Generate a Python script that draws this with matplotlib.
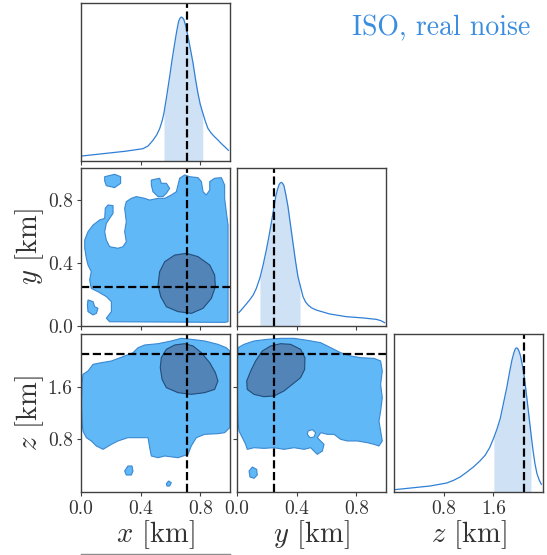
import numpy as np
import matplotlib
matplotlib.use("Agg")
import matplotlib.pyplot as plt
from matplotlib.lines import Line2D

plt.rcParams['font.family'] = 'serif'
plt.rcParams['font.serif'] = ['cmr10']
plt.rcParams['mathtext.fontset'] = 'cm'
plt.rcParams['axes.formatter.use_mathtext'] = True

# true source location [km]
x_true, y_true, z_true = 0.71, 0.25, 2.1
x_lim, y_lim, z_lim = (0.0, 1.0), (0.0, 1.0), (0.0, 2.4)

# 1D marginal posteriors (relative density)
x_grid = [0.009, 0.300, 0.416, 0.450, 0.483, 0.508, 0.528, 0.545, 0.557, 0.575,
          0.595, 0.612, 0.629, 0.643, 0.655, 0.664, 0.673, 0.682, 0.691, 0.704,
          0.718, 0.735, 0.752, 0.768, 0.785, 0.800, 0.817, 0.835, 0.852, 0.875,
          0.897, 0.920, 0.942, 0.965, 0.989]
x_dens = [0.032, 0.062, 0.078, 0.095, 0.131, 0.165, 0.205, 0.255, 0.305, 0.410,
          0.534, 0.645, 0.746, 0.825, 0.883, 0.903, 0.911, 0.907, 0.894, 0.850,
          0.788, 0.705, 0.619, 0.520, 0.428, 0.360, 0.305, 0.250, 0.206, 0.175,
          0.153, 0.132, 0.110, 0.090, 0.068]
x_ci = (0.557, 0.817)

y_grid = [0.013, 0.050, 0.085, 0.110, 0.130, 0.154, 0.175, 0.197, 0.214, 0.230,
          0.246, 0.260, 0.272, 0.282, 0.290, 0.298, 0.306, 0.315, 0.328, 0.342,
          0.359, 0.376, 0.392, 0.409, 0.423, 0.443, 0.460, 0.477, 0.500, 0.532,
          0.622, 0.734, 0.846, 0.935, 0.965, 0.991]
y_dens = [0.085, 0.125, 0.165, 0.198, 0.239, 0.305, 0.385, 0.482, 0.565, 0.651,
          0.740, 0.820, 0.865, 0.894, 0.905, 0.909, 0.903, 0.888, 0.830, 0.757,
          0.640, 0.524, 0.415, 0.313, 0.260, 0.186, 0.152, 0.133, 0.115, 0.101,
          0.076, 0.059, 0.051, 0.042, 0.034, 0.021]
y_ci = (0.154, 0.423)

z_grid = [0.016, 0.312, 0.581, 0.850, 0.960, 1.065, 1.170, 1.281, 1.380, 1.469,
          1.540, 1.609, 1.660, 1.711, 1.765, 1.819, 1.862, 1.900, 1.930, 1.953,
          1.972, 1.991, 2.012, 2.034, 2.066, 2.099, 2.134, 2.169, 2.206, 2.239,
          2.270, 2.303, 2.340, 2.373]
z_dens = [0.015, 0.027, 0.038, 0.057, 0.074, 0.095, 0.125, 0.159, 0.195, 0.233,
          0.280, 0.345, 0.400, 0.465, 0.565, 0.666, 0.760, 0.835, 0.880, 0.905,
          0.912, 0.909, 0.893, 0.867, 0.805, 0.729, 0.615, 0.497, 0.370, 0.264,
          0.180, 0.116, 0.075, 0.049]
z_ci = (1.609, 2.206)

# 2D credible regions: outer (90%) and inner (50%) contours
xy_outer = [
    [(0.192, 0.027), (0.170, 0.049), (0.204, 0.091), (0.204, 0.154), (0.170, 0.186),
     (0.114, 0.217), (0.069, 0.238), (0.058, 0.291), (0.069, 0.344), (0.047, 0.386),
     (0.036, 0.428), (0.025, 0.492), (0.025, 0.544), (0.047, 0.597), (0.081, 0.639),
     (0.125, 0.671), (0.159, 0.681), (0.163, 0.745), (0.181, 0.766), (0.215, 0.762),
     (0.215, 0.713), (0.192, 0.681), (0.170, 0.650), (0.159, 0.597), (0.170, 0.544),
     (0.192, 0.502), (0.248, 0.492), (0.282, 0.502), (0.304, 0.534), (0.293, 0.597),
     (0.304, 0.660), (0.293, 0.745), (0.304, 0.787), (0.338, 0.808), (0.371, 0.819),
     (0.427, 0.808), (0.461, 0.797), (0.517, 0.808), (0.562, 0.808), (0.606, 0.829),
     (0.640, 0.850), (0.651, 0.892), (0.662, 0.935), (0.696, 0.956), (0.729, 0.945),
     (0.785, 0.939), (0.808, 0.914), (0.819, 0.850), (0.841, 0.829), (0.864, 0.861),
     (0.864, 0.914), (0.897, 0.935), (0.942, 0.939), (0.964, 0.892), (0.964, 0.808),
     (0.975, 0.724), (0.987, 0.639), (0.987, 0.027), (0.964, 0.023)],
    [(0.159, 0.945), (0.226, 0.960), (0.266, 0.945), (0.266, 0.903), (0.226, 0.876),
     (0.170, 0.888), (0.159, 0.918)],
    [(0.472, 0.924), (0.528, 0.935), (0.539, 0.903), (0.573, 0.903), (0.595, 0.871),
     (0.573, 0.840), (0.550, 0.819), (0.517, 0.819), (0.483, 0.850), (0.472, 0.892)],
    [(0.047, 0.165), (0.081, 0.154), (0.092, 0.122), (0.114, 0.112), (0.103, 0.080),
     (0.081, 0.070), (0.047, 0.091), (0.043, 0.133)],
]
xy_inner = [(0.517, 0.259), (0.528, 0.344), (0.562, 0.407), (0.629, 0.449), (0.707, 0.460),
            (0.785, 0.439), (0.864, 0.386), (0.897, 0.323), (0.902, 0.249), (0.875, 0.175),
            (0.819, 0.112), (0.741, 0.080), (0.651, 0.091), (0.573, 0.122), (0.535, 0.186)]

xz_outer = [
    [(0.007, 1.635), (0.013, 1.787), (0.047, 1.838), (0.081, 1.939), (0.136, 1.964),
     (0.204, 1.990), (0.293, 2.066), (0.349, 2.116), (0.383, 2.192), (0.427, 2.233),
     (0.517, 2.253), (0.606, 2.294), (0.673, 2.334), (0.740, 2.319), (0.830, 2.294),
     (0.919, 2.243), (0.975, 2.192), (0.998, 2.142), (0.998, 0.977), (0.964, 0.901),
     (0.919, 0.886), (0.830, 0.876), (0.774, 0.825), (0.740, 0.699), (0.718, 0.572),
     (0.651, 0.521), (0.562, 0.547), (0.517, 0.521), (0.472, 0.547), (0.461, 0.673),
     (0.450, 0.825), (0.383, 0.825), (0.315, 0.825), (0.248, 0.775), (0.204, 0.724),
     (0.148, 0.648), (0.103, 0.699), (0.069, 0.775), (0.036, 0.825), (0.013, 0.927),
     (0.007, 1.078), (0.002, 1.332)],
    [(0.293, 0.319), (0.315, 0.395), (0.342, 0.395), (0.349, 0.319), (0.338, 0.258),
     (0.304, 0.258)],
    [(0.573, 0.127), (0.588, 0.167), (0.606, 0.142), (0.595, 0.091), (0.577, 0.091)],
]
xz_inner = [(0.539, 2.040), (0.573, 2.167), (0.629, 2.233), (0.696, 2.253), (0.752, 2.218),
            (0.808, 2.116), (0.864, 1.964), (0.902, 1.813), (0.919, 1.686), (0.897, 1.559),
            (0.830, 1.509), (0.740, 1.483), (0.651, 1.509), (0.573, 1.585), (0.544, 1.711),
            (0.532, 1.889)]

yz_outer = [
    [(0.007, 2.192), (0.047, 2.243), (0.114, 2.294), (0.204, 2.319), (0.293, 2.334),
     (0.383, 2.334), (0.472, 2.304), (0.562, 2.268), (0.629, 2.192), (0.696, 2.116),
     (0.763, 2.066), (0.830, 2.040), (0.919, 2.030), (0.964, 1.990), (0.975, 1.838),
     (0.964, 1.635), (0.975, 1.433), (0.964, 1.230), (0.953, 1.078), (0.964, 0.927),
     (0.975, 0.775), (0.953, 0.699), (0.919, 0.724), (0.875, 0.749), (0.808, 0.775),
     (0.740, 0.775), (0.696, 0.800), (0.651, 0.876), (0.606, 0.876), (0.562, 0.901),
     (0.539, 0.825), (0.584, 0.724), (0.573, 0.623), (0.539, 0.572), (0.494, 0.673),
     (0.450, 0.648), (0.383, 0.673), (0.315, 0.648), (0.248, 0.673), (0.181, 0.663),
     (0.114, 0.673), (0.069, 0.648), (0.058, 0.724), (0.036, 0.825), (0.013, 0.927),
     (0.007, 1.078), (0.002, 1.433), (0.002, 1.939)],
    [(0.081, 0.319), (0.103, 0.380), (0.132, 0.344), (0.136, 0.258), (0.114, 0.208),
     (0.087, 0.228)],
]
yz_holes = [[(0.477, 0.927), (0.506, 0.947), (0.528, 0.901), (0.517, 0.835),
             (0.490, 0.825), (0.472, 0.876)]]
yz_inner = [(0.065, 1.686), (0.092, 1.838), (0.125, 1.990), (0.170, 2.142), (0.226, 2.218),
            (0.293, 2.253), (0.360, 2.243), (0.427, 2.167), (0.456, 2.040), (0.454, 1.863),
            (0.427, 1.737), (0.371, 1.635), (0.315, 1.534), (0.248, 1.458), (0.181, 1.448),
            (0.114, 1.483), (0.069, 1.559)]

line_c = '#2f7fd6'
shade_c = '#cfe1f5'
outer_fc, outer_ec = '#60b8f6', '#3a88d2'
inner_fc, inner_ec = '#5284b8', '#244c79'
spine_c = '0.25'

fig = plt.figure(figsize=(5.47, 5.55), dpi=100)
W, H = 547.0, 555.0
cols = [81, 237, 394]
rows = [3, 168, 334]
aw, ah = 149, 158


def make_ax(r, c):
    ax = fig.add_axes([cols[c] / W, 1 - (rows[r] + ah) / H, aw / W, ah / H])
    for s in ax.spines.values():
        s.set_color(spine_c)
        s.set_linewidth(1.0)
    ax.tick_params(direction='out', length=3, width=0.8, color=spine_c,
                   labelsize=14, labelcolor='0.2', pad=3)
    return ax


def marginal(ax, g, d, ci, truth, lim):
    g = np.array(g)
    d = np.array(d)
    m = (g >= ci[0] - 1e-9) & (g <= ci[1] + 1e-9)
    ax.fill_between(g[m], 0, d[m], color=shade_c, lw=0)
    ax.plot(g, d, color=line_c, lw=0.9)
    ax.axvline(truth, color='k', ls='--', lw=1.6)
    ax.set_xlim(*lim)
    ax.set_ylim(0, 1.0)
    ax.set_yticks([])


def regions(ax, outer, inner, holes=()):
    for poly in outer:
        px, py = zip(*poly)
        ax.fill(px, py, fc=outer_fc, ec=outer_ec, lw=0.8)
    for poly in holes:
        px, py = zip(*poly)
        ax.fill(px, py, fc='white', ec=outer_ec, lw=0.8)
    px, py = zip(*inner)
    ax.fill(px, py, fc=inner_fc, ec=inner_ec, lw=0.8)


xy_ticks = [0.0, 0.4, 0.8]
z_ticks = [0.8, 1.6]

# diagonal
ax00 = make_ax(0, 0)
marginal(ax00, x_grid, x_dens, x_ci, x_true, x_lim)
ax00.set_xticks(xy_ticks)
ax00.set_xticklabels([])

ax11 = make_ax(1, 1)
marginal(ax11, y_grid, y_dens, y_ci, y_true, y_lim)
ax11.set_xticks(xy_ticks)
ax11.set_xticklabels([])

ax22 = make_ax(2, 2)
marginal(ax22, z_grid, z_dens, z_ci, z_true, z_lim)
ax22.set_xticks(z_ticks)
ax22.set_xticklabels(['0.8', '1.6'])

# x-y
ax10 = make_ax(1, 0)
regions(ax10, xy_outer, xy_inner)
ax10.axvline(x_true, color='k', ls='--', lw=1.6)
ax10.axhline(y_true, color='k', ls='--', lw=1.6)
ax10.set_xlim(*x_lim)
ax10.set_ylim(*y_lim)
ax10.set_xticks(xy_ticks)
ax10.set_xticklabels([])
ax10.set_yticks(xy_ticks)
ax10.set_yticklabels(['0.0', '0.4', '0.8'])

# x-z
ax20 = make_ax(2, 0)
regions(ax20, xz_outer, xz_inner)
ax20.axvline(x_true, color='k', ls='--', lw=1.6)
ax20.axhline(z_true, color='k', ls='--', lw=1.6)
ax20.set_xlim(*x_lim)
ax20.set_ylim(*z_lim)
ax20.set_xticks(xy_ticks)
ax20.set_xticklabels(['0.0', '0.4', '0.8'])
ax20.set_yticks(z_ticks)
ax20.set_yticklabels(['0.8', '1.6'])

# y-z
ax21 = make_ax(2, 1)
regions(ax21, yz_outer, yz_inner, yz_holes)
ax21.axvline(y_true, color='k', ls='--', lw=1.6)
ax21.axhline(z_true, color='k', ls='--', lw=1.6)
ax21.set_xlim(*y_lim)
ax21.set_ylim(*z_lim)
ax21.set_xticks(xy_ticks)
ax21.set_xticklabels(['0.0', '0.4', '0.8'])
ax21.set_yticks(z_ticks)
ax21.set_yticklabels([])

lab_kw = dict(fontsize=20.5, color='0.2')
ax10.set_ylabel(r'$y$ [km]', **lab_kw)
ax20.set_ylabel(r'$z$ [km]', **lab_kw)
ax20.set_xlabel(r'$x$ [km]', **lab_kw)
ax21.set_xlabel(r'$y$ [km]', **lab_kw)
ax22.set_xlabel(r'$z$ [km]', **lab_kw)
for ax in (ax10, ax20):
    ax.yaxis.set_label_coords(-0.235, 0.5)
for ax in (ax20, ax21, ax22):
    ax.xaxis.set_label_coords(0.5, -0.165)

fig.text(530 / W, 1 - 28 / H, 'ISO, real noise', ha='right', va='center',
         fontsize=20, color='#3b8de0')

# edge of the panel below
fig.add_artist(Line2D([81 / W, 230 / W], [1 - 554 / H, 1 - 554 / H],
                      color='0.55', lw=1.0))

fig.savefig('out.png', dpi=100)
